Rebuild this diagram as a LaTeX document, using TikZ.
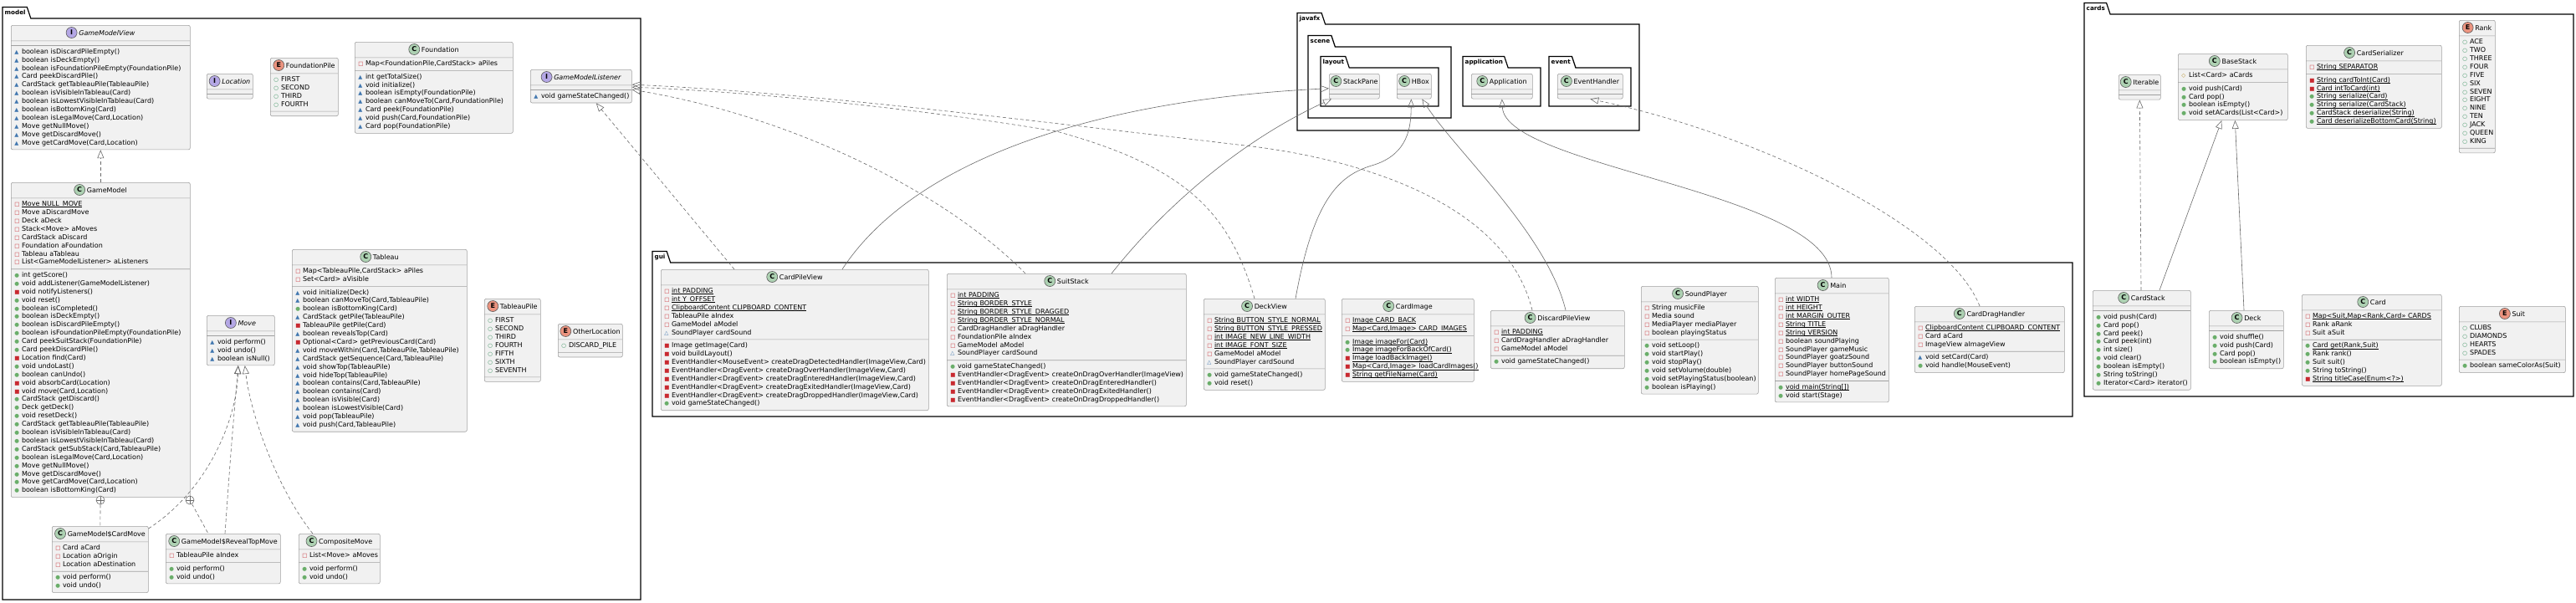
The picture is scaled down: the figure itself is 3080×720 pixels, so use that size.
\documentclass[tikz,border=0pt]{standalone}
\usepackage{fontspec}
\setmainfont{DejaVu Sans}
\usetikzlibrary{shapes.multipart, arrows.meta, calc}

\definecolor{boxfill}{HTML}{F1F1F1}
\definecolor{boxline}{HTML}{A0A0A0}
\definecolor{linkc}{HTML}{6A6A6A}
\definecolor{spotline}{HTML}{5C5C5C}
\definecolor{cspot}{HTML}{ADD1B2}
\definecolor{ispot}{HTML}{B4A7E5}
\definecolor{espot}{HTML}{EB937F}
\definecolor{privc}{HTML}{C82930}
\definecolor{pkgc}{HTML}{4177AF}
\definecolor{pubc}{HTML}{6AAE6A}
\definecolor{pubfc}{HTML}{2E8B57}
\definecolor{protc}{HTML}{B38D22}

\newcommand{\mbfont}{\fontsize{8}{9.9}\selectfont}
\newcommand{\hdfont}{\fontsize{8}{9.9}\selectfont}
\newcommand{\vico}[2]{\makebox[8.7pt][l]{\textcolor{#1}{\fontsize{6.5}{6.5}\selectfont #2}}}
\newcommand{\privf}{\vico{privc}{□}}
\newcommand{\privm}{\vico{privc}{■}}
\newcommand{\pkgf}{\vico{pkgc}{△}}
\newcommand{\pkgm}{\vico{pkgc}{▲}}
\newcommand{\pubf}{\vico{pubfc}{○}}
\newcommand{\pubm}{\vico{pubc}{●}}
\newcommand{\protf}{\vico{protc}{◇}}
\newcommand{\rw}[2]{\mbox{\strut#1#2}}
\newcommand{\stat}[1]{\setbox0=\hbox{#1}\rlap{\rule[-1.3pt]{\wd0}{0.45pt}}\box0}

\tikzset{
  classbox/.style={rectangle split, rectangle split parts=3, draw=boxline, fill=boxfill,
    rounded corners=2pt, line width=0.6pt, inner xsep=4pt, inner ysep=2.5pt,
    font=\mbfont, align=left, anchor=north west,
    rectangle split empty part height=0pt, rectangle split empty part depth=0pt},
  titletext/.style={inner sep=0pt, anchor=base, font=\hdfont},
  spot/.style={circle, draw=spotline, line width=0.6pt, minimum size=13pt, inner sep=0pt,
    font=\bfseries\fontsize{8}{8}\selectfont},
  pkglabel/.style={inner sep=0pt, font=\bfseries\fontsize{7.2}{8}\selectfont},
  pkg/.style={draw=black, line width=1.2pt, line join=miter},
  realize/.style={draw=linkc, line width=0.6pt, dash pattern=on 4pt off 3pt,
    -{Triangle[open, length=10pt, width=8pt]}},
  extend/.style={draw=linkc, line width=0.6pt, -{Triangle[open, length=10pt, width=8pt]}},
  nestln/.style={draw=linkc, line width=0.6pt, dash pattern=on 4pt off 3pt},
  nestc/.style={circle, draw=linkc, line width=0.6pt, minimum size=10pt, inner sep=0pt, fill=white,
    path picture={\draw[linkc, line width=0.6pt] (path picture bounding box.north) -- (path picture bounding box.south)
      (path picture bounding box.west) -- (path picture bounding box.east);}}
}

\newcommand{\umlclass}[9]{%
  \pgfmathsetmacro{\clsw}{#5-8}%
  \node[classbox, text width=\clsw pt] (#1) at (#3,-#4)
    {\rule[-3.5pt]{0pt}{13pt}\nodepart{two}#8\nodepart{three}#9};
  \node[titletext] (#1-title) at ([xshift=7.5pt, yshift=-12pt]#1.north) {#2};
  \node[spot, fill=#6] (#1-spot) at ([xshift=-8.5pt, yshift=3pt]#1-title.base west) {#7};
}
\newcommand{\umlpkg}[6]{%
  \node[pkglabel, anchor=west] (#1) at (#3+2.5,-#4+6.75) {#2};
  \draw[pkg] (#3,-#4) -- (#3,-#4+13.5) -- ($(#1.east)+(1.5pt,6.75pt)$) -- ($(#1.east)+(6pt,-6.75pt)$)
    -- (#5,-#4) -- (#5,-#6) -- (#3,-#6) -- cycle;
}

\begin{document}
\begin{tikzpicture}[x=1pt, y=1pt]
\useasboundingbox (0,0) rectangle (3080,-720);
\fill[white] (0,0) rectangle (3080,-720);

\umlpkg{modelpkg}{model}{3}{22}{766}{717}
\umlpkg{guipkg}{gui}{780}{314}{2478}{498}
\umlpkg{javafxpkg}{javafx}{1551}{29}{1960}{156}
\umlpkg{scenepkg}{scene}{1564}{56}{1735}{141}
\umlpkg{layoutpkg}{layout}{1579}{81}{1720}{127}
\umlpkg{applicationpkg}{application}{1749}{81}{1842}{127}
\umlpkg{eventpkg}{event}{1852}{81}{1950}{127}
\umlpkg{cardspkg}{cards}{2492}{17}{3077}{474}

\umlclass{GameModelView}{\itshape GameModelView}{13}{30}{214}{ispot}{I}{}{%
\rw\pkgm{boolean isDiscardPileEmpty()}\\
\rw\pkgm{boolean isDeckEmpty()}\\
\rw\pkgm{boolean isFoundationPileEmpty(FoundationPile)}\\
\rw\pkgm{Card peekDiscardPile()}\\
\rw\pkgm{CardStack getTableauPile(TableauPile)}\\
\rw\pkgm{boolean isVisibleInTableau(Card)}\\
\rw\pkgm{boolean isLowestVisibleInTableau(Card)}\\
\rw\pkgm{boolean isBottomKing(Card)}\\
\rw\pkgm{boolean isLegalMove(Card,Location)}\\
\rw\pkgm{Move getNullMove()}\\
\rw\pkgm{Move getDiscardMove()}\\
\rw\pkgm{Move getCardMove(Card,Location)}}
\umlclass{Location}{\itshape Location}{247}{88}{55}{ispot}{I}{}{}
\umlclass{FoundationPile}{FoundationPile}{323}{69}{81}{espot}{E}{%
\rw\pubf{FIRST}\\
\rw\pubf{SECOND}\\
\rw\pubf{THIRD}\\
\rw\pubf{FOURTH}}{}
\umlclass{Foundation}{Foundation}{424}{50}{189}{cspot}{C}{%
\rw\privf{Map<FoundationPile,CardStack> aPiles}}{%
\rw\pkgm{int getTotalSize()}\\
\rw\pkgm{void initialize()}\\
\rw\pkgm{boolean isEmpty(FoundationPile)}\\
\rw\pkgm{boolean canMoveTo(Card,FoundationPile)}\\
\rw\pkgm{Card peek(FoundationPile)}\\
\rw\pkgm{void push(Card,FoundationPile)}\\
\rw\pkgm{Card pop(FoundationPile)}}
\umlclass{GameModelListener}{\itshape GameModelListener}{634}{83}{121}{ispot}{I}{}{%
\rw\pkgm{void gameStateChanged()}}
\umlclass{GameModel}{GameModel}{13}{218}{214}{cspot}{C}{%
\rw\privf{\stat{Move NULL\_MOVE}}\\
\rw\privf{Move aDiscardMove}\\
\rw\privf{Deck aDeck}\\
\rw\privf{Stack<Move> aMoves}\\
\rw\privf{CardStack aDiscard}\\
\rw\privf{Foundation aFoundation}\\
\rw\privf{Tableau aTableau}\\
\rw\privf{List<GameModelListener> aListeners}}{%
\rw\pubm{int getScore()}\\
\rw\pubm{void addListener(GameModelListener)}\\
\rw\privm{void notifyListeners()}\\
\rw\pubm{void reset()}\\
\rw\pubm{boolean isCompleted()}\\
\rw\pubm{boolean isDeckEmpty()}\\
\rw\pubm{boolean isDiscardPileEmpty()}\\
\rw\pubm{boolean isFoundationPileEmpty(FoundationPile)}\\
\rw\pubm{Card peekSuitStack(FoundationPile)}\\
\rw\pubm{Card peekDiscardPile()}\\
\rw\privm{Location find(Card)}\\
\rw\pubm{void undoLast()}\\
\rw\pubm{boolean canUndo()}\\
\rw\privm{void absorbCard(Location)}\\
\rw\privm{void move(Card,Location)}\\
\rw\pubm{CardStack getDiscard()}\\
\rw\pubm{Deck getDeck()}\\
\rw\pubm{void resetDeck()}\\
\rw\pubm{CardStack getTableauPile(TableauPile)}\\
\rw\pubm{boolean isVisibleInTableau(Card)}\\
\rw\pubm{boolean isLowestVisibleInTableau(Card)}\\
\rw\pubm{CardStack getSubStack(Card,TableauPile)}\\
\rw\pubm{boolean isLegalMove(Card,Location)}\\
\rw\pubm{Move getNullMove()}\\
\rw\pubm{Move getDiscardMove()}\\
\rw\pubm{Move getCardMove(Card,Location)}\\
\rw\pubm{boolean isBottomKing(Card)}}
\umlclass{Tableau}{Tableau}{349}{298}{209}{cspot}{C}{%
\rw\privf{Map<TableauPile,CardStack> aPiles}\\
\rw\privf{Set<Card> aVisible}}{%
\rw\pkgm{void initialize(Deck)}\\
\rw\pkgm{boolean canMoveTo(Card,TableauPile)}\\
\rw\pubm{boolean isBottomKing(Card)}\\
\rw\pkgm{CardStack getPile(TableauPile)}\\
\rw\privm{TableauPile getPile(Card)}\\
\rw\pkgm{boolean revealsTop(Card)}\\
\rw\privm{Optional<Card> getPreviousCard(Card)}\\
\rw\pkgm{void moveWithin(Card,TableauPile,TableauPile)}\\
\rw\pkgm{CardStack getSequence(Card,TableauPile)}\\
\rw\pkgm{void showTop(TableauPile)}\\
\rw\pkgm{void hideTop(TableauPile)}\\
\rw\pkgm{boolean contains(Card,TableauPile)}\\
\rw\pkgm{boolean contains(Card)}\\
\rw\pkgm{boolean isVisible(Card)}\\
\rw\pkgm{boolean isLowestVisible(Card)}\\
\rw\pkgm{void pop(TableauPile)}\\
\rw\pkgm{void push(Card,TableauPile)}}
\umlclass{Move}{\itshape Move}{247}{377}{81}{ispot}{I}{}{%
\rw\pkgm{void perform()}\\
\rw\pkgm{void undo()}\\
\rw\pkgm{boolean isNull()}}
\umlclass{TableauPile}{TableauPile}{579}{357}{67}{espot}{E}{%
\rw\pubf{FIRST}\\
\rw\pubf{SECOND}\\
\rw\pubf{THIRD}\\
\rw\pubf{FOURTH}\\
\rw\pubf{FIFTH}\\
\rw\pubf{SIXTH}\\
\rw\pubf{SEVENTH}}{}
\umlclass{OtherLocation}{OtherLocation}{667}{387}{77}{espot}{E}{%
\rw\pubf{DISCARD\_PILE}}{}
\umlclass{CardMove}{GameModel\$CardMove}{62}{629}{115}{cspot}{C}{%
\rw\privf{Card aCard}\\
\rw\privf{Location aOrigin}\\
\rw\privf{Location aDestination}}{%
\rw\pubm{void perform()}\\
\rw\pubm{void undo()}}
\umlclass{RevealTopMove}{GameModel\$RevealTopMove}{198}{638}{137}{cspot}{C}{%
\rw\privf{TableauPile aIndex}}{%
\rw\pubm{void perform()}\\
\rw\pubm{void undo()}}
\umlclass{CompositeMove}{CompositeMove}{357}{638}{97}{cspot}{C}{%
\rw\privf{List<Move> aMoves}}{%
\rw\pubm{void perform()}\\
\rw\pubm{void undo()}}

\umlclass{CardPileView}{CardPileView}{790}{322}{320}{cspot}{C}{%
\rw\privf{\stat{int PADDING}}\\
\rw\privf{\stat{int Y\_OFFSET}}\\
\rw\privf{\stat{ClipboardContent CLIPBOARD\_CONTENT}}\\
\rw\privf{TableauPile aIndex}\\
\rw\privf{GameModel aModel}\\
\rw\pkgf{SoundPlayer cardSound}}{%
\rw\privm{Image getImage(Card)}\\
\rw\privm{void buildLayout()}\\
\rw\privm{EventHandler<MouseEvent> createDragDetectedHandler(ImageView,Card)}\\
\rw\privm{EventHandler<DragEvent> createDragOverHandler(ImageView,Card)}\\
\rw\privm{EventHandler<DragEvent> createDragEnteredHandler(ImageView,Card)}\\
\rw\privm{EventHandler<DragEvent> createDragExitedHandler(ImageView,Card)}\\
\rw\privm{EventHandler<DragEvent> createDragDroppedHandler(ImageView,Card)}\\
\rw\pubm{void gameStateChanged()}}
\umlclass{SuitStack}{SuitStack}{1132}{327}{286}{cspot}{C}{%
\rw\privf{\stat{int PADDING}}\\
\rw\privf{\stat{String BORDER\_STYLE}}\\
\rw\privf{\stat{String BORDER\_STYLE\_DRAGGED}}\\
\rw\privf{\stat{String BORDER\_STYLE\_NORMAL}}\\
\rw\privf{CardDragHandler aDragHandler}\\
\rw\privf{FoundationPile aIndex}\\
\rw\privf{GameModel aModel}\\
\rw\pkgf{SoundPlayer cardSound}}{%
\rw\pubm{void gameStateChanged()}\\
\rw\privm{EventHandler<DragEvent> createOnDragOverHandler(ImageView)}\\
\rw\privm{EventHandler<DragEvent> createOnDragEnteredHandler()}\\
\rw\privm{EventHandler<DragEvent> createOnDragExitedHandler()}\\
\rw\privm{EventHandler<DragEvent> createOnDragDroppedHandler()}}
\umlclass{DeckView}{DeckView}{1439}{357}{145}{cspot}{C}{%
\rw\privf{\stat{String BUTTON\_STYLE\_NORMAL}}\\
\rw\privf{\stat{String BUTTON\_STYLE\_PRESSED}}\\
\rw\privf{\stat{int IMAGE\_NEW\_LINE\_WIDTH}}\\
\rw\privf{\stat{int IMAGE\_FONT\_SIZE}}\\
\rw\privf{GameModel aModel}\\
\rw\pkgf{SoundPlayer cardSound}}{%
\rw\pubm{void gameStateChanged()}\\
\rw\pubm{void reset()}}
\umlclass{CardImage}{CardImage}{1604}{357}{158}{cspot}{C}{%
\rw\privf{\stat{Image CARD\_BACK}}\\
\rw\privf{\stat{Map<Card,Image> CARD\_IMAGES}}}{%
\rw\pubm{\stat{Image imageFor(Card)}}\\
\rw\pubm{\stat{Image imageForBackOfCard()}}\\
\rw\privm{\stat{Image loadBackImage()}}\\
\rw\privm{\stat{Map<Card,Image> loadCardImages()}}\\
\rw\privm{\stat{String getFileName(Card)}}}
\umlclass{DiscardPileView}{DiscardPileView}{1782}{371}{160}{cspot}{C}{%
\rw\privf{\stat{int PADDING}}\\
\rw\privf{CardDragHandler aDragHandler}\\
\rw\privf{GameModel aModel}}{%
\rw\pubm{void gameStateChanged()}}
\umlclass{SoundPlayer}{SoundPlayer}{1962}{342}{140}{cspot}{C}{%
\rw\privf{String musicFile}\\
\rw\privf{Media sound}\\
\rw\privf{MediaPlayer mediaPlayer}\\
\rw\privf{boolean playingStatus}}{%
\rw\pubm{void setLoop()}\\
\rw\pubm{void startPlay()}\\
\rw\pubm{void stopPlay()}\\
\rw\pubm{void setVolume(double)}\\
\rw\pubm{void setPlayingStatus(boolean)}\\
\rw\pubm{boolean isPlaying()}}
\umlclass{Main}{Main}{2122}{332}{136}{cspot}{C}{%
\rw\privf{\stat{int WIDTH}}\\
\rw\privf{\stat{int HEIGHT}}\\
\rw\privf{\stat{int MARGIN\_OUTER}}\\
\rw\privf{\stat{String TITLE}}\\
\rw\privf{\stat{String VERSION}}\\
\rw\privf{boolean soundPlaying}\\
\rw\privf{SoundPlayer gameMusic}\\
\rw\privf{SoundPlayer goatzSound}\\
\rw\privf{SoundPlayer buttonSound}\\
\rw\privf{SoundPlayer homePageSound}}{%
\rw\pubm{\stat{void main(String[])}}\\
\rw\pubm{void start(Stage)}}
\umlclass{CardDragHandler}{CardDragHandler}{2289}{366}{179}{cspot}{C}{%
\rw\privf{\stat{ClipboardContent CLIPBOARD\_CONTENT}}\\
\rw\privf{Card aCard}\\
\rw\privf{ImageView aImageView}}{%
\rw\pkgm{void setCard(Card)}\\
\rw\pubm{void handle(MouseEvent)}}

\umlclass{StackPane}{StackPane}{1589}{88}{60}{cspot}{C}{}{}
\umlclass{HBox}{HBox}{1670}{88}{41}{cspot}{C}{}{}
\umlclass{Application}{Application}{1759}{88}{73}{cspot}{C}{}{}
\umlclass{EventHandler}{EventHandler}{1862}{88}{78}{cspot}{C}{}{}

\umlclass{Iterable}{Iterable}{2533}{89}{50}{cspot}{C}{}{}
\umlclass{BaseStack}{BaseStack}{2604}{64}{131}{cspot}{C}{%
\rw\protf{List<Card> aCards}}{%
\rw\pubm{void push(Card)}\\
\rw\pubm{Card pop()}\\
\rw\pubm{boolean isEmpty()}\\
\rw\pubm{void setACards(List<Card>)}}
\umlclass{CardStack}{CardStack}{2502}{347}{117}{cspot}{C}{}{%
\rw\pubm{void push(Card)}\\
\rw\pubm{Card pop()}\\
\rw\pubm{Card peek()}\\
\rw\pubm{Card peek(int)}\\
\rw\pubm{int size()}\\
\rw\pubm{void clear()}\\
\rw\pubm{boolean isEmpty()}\\
\rw\pubm{String toString()}\\
\rw\pubm{Iterator<Card> iterator()}}
\umlclass{Deck}{Deck}{2641}{371}{89}{cspot}{C}{}{%
\rw\pubm{void shuffle()}\\
\rw\pubm{void push(Card)}\\
\rw\pubm{Card pop()}\\
\rw\pubm{boolean isEmpty()}}
\umlclass{CardSerializer}{CardSerializer}{2757}{54}{162}{cspot}{C}{%
\rw\privf{\stat{String SEPARATOR}}}{%
\rw\privm{\stat{String cardToInt(Card)}}\\
\rw\privm{\stat{Card intToCard(int)}}\\
\rw\pubm{\stat{String serialize(Card)}}\\
\rw\pubm{\stat{String serialize(CardStack)}}\\
\rw\pubm{\stat{CardStack deserialize(String)}}\\
\rw\pubm{\stat{Card deserializeBottomCard(String)}}}
\umlclass{Rank}{Rank}{2940}{24}{43}{espot}{E}{%
\rw\pubf{ACE}\\ \rw\pubf{TWO}\\ \rw\pubf{THREE}\\ \rw\pubf{FOUR}\\ \rw\pubf{FIVE}\\
\rw\pubf{SIX}\\ \rw\pubf{SEVEN}\\ \rw\pubf{EIGHT}\\ \rw\pubf{NINE}\\ \rw\pubf{TEN}\\
\rw\pubf{JACK}\\ \rw\pubf{QUEEN}\\ \rw\pubf{KING}}{}
\umlclass{Card}{Card}{2752}{352}{167}{cspot}{C}{%
\rw\privf{\stat{Map<Suit,Map<Rank,Card>> CARDS}}\\
\rw\privf{Rank aRank}\\
\rw\privf{Suit aSuit}}{%
\rw\pubm{\stat{Card get(Rank,Suit)}}\\
\rw\pubm{Rank rank()}\\
\rw\pubm{Suit suit()}\\
\rw\pubm{String toString()}\\
\rw\privm{\stat{String titleCase(Enum<?>)}}}
\umlclass{Suit}{Suit}{2940}{366}{127}{espot}{E}{%
\rw\pubf{CLUBS}\\
\rw\pubf{DIAMONDS}\\
\rw\pubf{HEARTS}\\
\rw\pubf{SPADES}}{%
\rw\pubm{boolean sameColorAs(Suit)}}

\draw[realize] (GameModel) -- (GameModelView);
\node[nestc] (nestA) at (120,-598) {};
\node[nestc] (nestB) at (227,-598) {};
\draw[nestln] (nestA) -- (CardMove);
\draw[nestln] (nestB) -- ([xshift=51pt]RevealTopMove.north west);
\draw[realize] ([yshift=-3pt]CardMove.north east) .. controls (250,-585) and (283,-500) .. ([xshift=-3pt]Move.south);
\draw[realize] ([xshift=71pt]RevealTopMove.north west) .. controls (276,-540) .. ([xshift=-3pt]Move.south);
\draw[realize] ([xshift=17pt]CompositeMove.north west) .. controls (335,-590) and (300,-500) .. ([xshift=5pt]Move.south);

\draw[realize] ([xshift=88pt]CardPileView.north west) -- ([xshift=18pt]GameModelListener.south);
\draw[realize] ([xshift=94pt]SuitStack.north west) .. controls (1130,-230) and (950,-140) .. ([yshift=-4pt]GameModelListener.east);
\draw[realize] ([xshift=61pt]DeckView.north west) .. controls (1470,-255) and (1420,-200) .. (1263,-157)
  .. controls (1100,-130) and (900,-110) .. ([yshift=-1pt]GameModelListener.east);
\draw[realize] ([xshift=50pt]DiscardPileView.north west) .. controls (1800,-240) and (1620,-188) .. (1480,-173)
  .. controls (1200,-140) and (950,-110) .. ([yshift=2pt]GameModelListener.east);

\draw[extend] ([xshift=217pt]CardPileView.north west) .. controls (1090,-195) and (1300,-120) .. ([yshift=-2.5pt]StackPane.west);
\draw[extend] ([xshift=197pt]SuitStack.north west) .. controls (1390,-250) and (1480,-170) .. ([xshift=3pt]StackPane.south west);
\draw[extend] ([xshift=110pt]DeckView.north west) .. controls (1570,-240) and (1600,-210) .. (1640,-198)
  .. controls (1685,-185) and (1687,-150) .. ([xshift=-3.5pt]HBox.south);
\draw[extend] ([xshift=90pt]DiscardPileView.north west) .. controls (1850,-280) and (1740,-180) .. ([xshift=9.5pt]HBox.south);
\draw[extend] ([xshift=68pt]Main.north west) .. controls (2190,-230) and (1800,-200) .. (Application.south);
\draw[realize] ([xshift=78pt]CardDragHandler.north west) .. controls (2330,-270) and (2100,-160) .. (EventHandler.south);

\draw[realize] ([xshift=58pt]CardStack.north west) -- (Iterable.south);
\draw[extend] ([xshift=80pt]CardStack.north west) -- ([xshift=-13.5pt]BaseStack.south);
\draw[extend] ([xshift=42pt]Deck.north west) -- ([xshift=2.5pt]BaseStack.south);
\end{tikzpicture}
\end{document}
